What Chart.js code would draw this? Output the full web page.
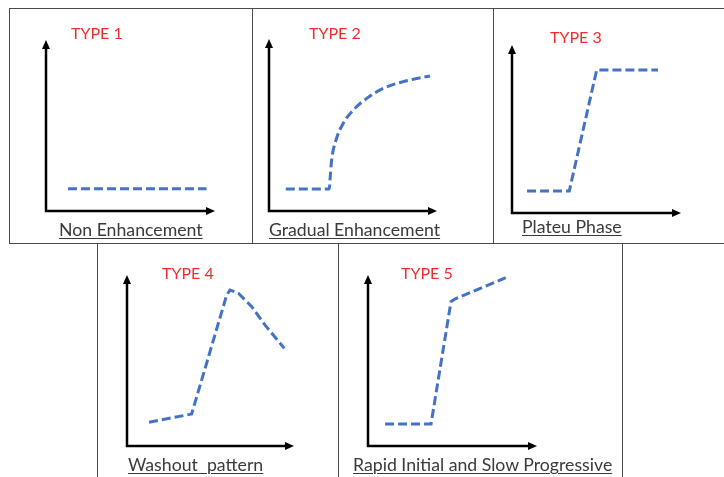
<!DOCTYPE html>
<html>
<head>
<meta charset="utf-8">
<script src="https://cdn.jsdelivr.net/npm/chart.js@4.4.0/dist/chart.umd.min.js"></script>
<style>
  body { margin: 0; background: #fff; width: 724px; height: 477px; overflow: hidden; position: relative; font-family: Lato, 'Open Sans', sans-serif; }
  .box { position: absolute; border: 1.5px solid #4a4a4a; box-sizing: border-box; }
  canvas { position: absolute; }
  .type { position: absolute; color: #f22b2b; font-size: 16px; line-height: 16px; white-space: nowrap; }
  .cap { position: absolute; color: #3a3a3a; font-size: 17.7px; line-height: 17px; white-space: pre; text-decoration: underline; text-underline-offset: 2px; text-decoration-thickness: 1px; }
</style>
</head>
<body>
<script>
// curve values (0-100 on both axes, origin at the axes corner)
const type1X = [13, 95];
const type1Y = [13, 13];
const type2X = [10, 35.9, 36.3, 37.3, 39.9, 44.2, 50.2, 58.2, 68.0, 79.9, 95.8];
const type2Y = [12.8, 12.8, 18.0, 29.7, 41.3, 51.0, 58.7, 65.5, 71.3, 75.2, 78.5];
const type3X = [8.9, 33.9, 50.1, 86.4];
const type3Y = [13.1, 13.1, 85.1, 85.1];
const type4X = [13.2, 38.7, 59.7, 61.7, 66.7, 74.7, 82.6, 94.2];
const type4Y = [13.9, 18.7, 88.3, 91.2, 89.3, 81.5, 70.8, 57.1];
const type5X = [10.1, 37.3, 49.1, 51.1, 81.5];
const type5Y = [12.9, 12.9, 84.4, 85.8, 98.4];

const typeLabels = ['TYPE 1', 'TYPE 2', 'TYPE 3', 'TYPE 4', 'TYPE 5'];
const captions = ['Non Enhancement', 'Gradual Enhancement', 'Plateu Phase', 'Washout  pattern', 'Rapid Initial and Slow Progressive'];

// panel boxes and axes corners in page pixels
const panels = [
  { box: [9, 8, 244, 236], axis: [46, 40, 215, 211], xs: type1X, ys: type1Y, smooth: false, lab: [71, 25], cap: [59, 221] },
  { box: [252, 8, 242, 236], axis: [269, 39, 437, 211], xs: type2X, ys: type2Y, smooth: true, lab: [309, 25], cap: [269, 221] },
  { box: [493, 8, 232, 236], axis: [512, 45, 681, 213], xs: type3X, ys: type3Y, smooth: false, lab: [550, 29], cap: [522, 218] },
  { box: [97, 243, 242, 240], axis: [127, 275, 294, 446], xs: type4X, ys: type4Y, smooth: false, lab: [162, 265], cap: [128, 456] },
  { box: [338, 243, 285, 240], axis: [368, 275, 537, 446], xs: type5X, ys: type5Y, smooth: false, lab: [401, 265], cap: [353, 456] }
];

const axisArrows = {
  id: 'axisArrows',
  afterDraw(chart) {
    const ctx = chart.ctx;
    const a = chart.chartArea;
    ctx.save();
    ctx.strokeStyle = '#000';
    ctx.fillStyle = '#000';
    ctx.lineWidth = 2.5;
    ctx.beginPath();
    ctx.moveTo(a.left, a.top + 6);
    ctx.lineTo(a.left, a.bottom);
    ctx.lineTo(a.right - 6, a.bottom);
    ctx.stroke();
    ctx.beginPath();
    ctx.moveTo(a.left, a.top);
    ctx.lineTo(a.left - 4, a.top + 9);
    ctx.lineTo(a.left + 4, a.top + 9);
    ctx.closePath();
    ctx.fill();
    ctx.beginPath();
    ctx.moveTo(a.right, a.bottom);
    ctx.lineTo(a.right - 9, a.bottom - 4);
    ctx.lineTo(a.right - 9, a.bottom + 4);
    ctx.closePath();
    ctx.fill();
    ctx.restore();
  }
};

panels.forEach(function(p, i) {
  const box = document.createElement('div');
  box.className = 'box';
  box.style.left = p.box[0] + 'px';
  box.style.top = p.box[1] + 'px';
  box.style.width = p.box[2] + 'px';
  box.style.height = p.box[3] + 'px';
  document.body.appendChild(box);

  const cv = document.createElement('canvas');
  cv.width = p.box[2];
  cv.height = p.box[3];
  cv.style.left = p.box[0] + 'px';
  cv.style.top = p.box[1] + 'px';
  cv.style.width = p.box[2] + 'px';
  cv.style.height = p.box[3] + 'px';
  document.body.appendChild(cv);

  const t = document.createElement('div');
  t.className = 'type';
  t.textContent = typeLabels[i];
  t.style.left = p.lab[0] + 'px';
  t.style.top = p.lab[1] + 'px';
  document.body.appendChild(t);

  const c = document.createElement('div');
  c.className = 'cap';
  c.textContent = captions[i];
  c.style.left = p.cap[0] + 'px';
  c.style.top = p.cap[1] + 'px';
  document.body.appendChild(c);

  const points = p.xs.map(function(x, k) { return { x: x, y: p.ys[k] }; });

  new Chart(cv.getContext('2d'), {
    type: 'line',
    data: {
      datasets: [{
        data: points,
        borderColor: '#4472C4',
        borderWidth: 3,
        borderDash: [9, 4],
        pointRadius: 0,
        fill: false,
        clip: false,
        tension: p.smooth ? 0.4 : 0,
        cubicInterpolationMode: p.smooth ? 'monotone' : 'default'
      }]
    },
    options: {
      responsive: false,
      animation: false,
      layout: {
        padding: {
          left: p.axis[0] - p.box[0],
          top: p.axis[1] - p.box[1],
          right: p.box[0] + p.box[2] - p.axis[2],
          bottom: p.box[1] + p.box[3] - p.axis[3]
        }
      },
      scales: {
        x: { type: 'linear', min: 0, max: 100, display: false },
        y: { type: 'linear', min: 0, max: 100, display: false }
      },
      plugins: { legend: { display: false }, tooltip: { enabled: false } }
    },
    plugins: [axisArrows]
  });
});
</script>
</body>
</html>
